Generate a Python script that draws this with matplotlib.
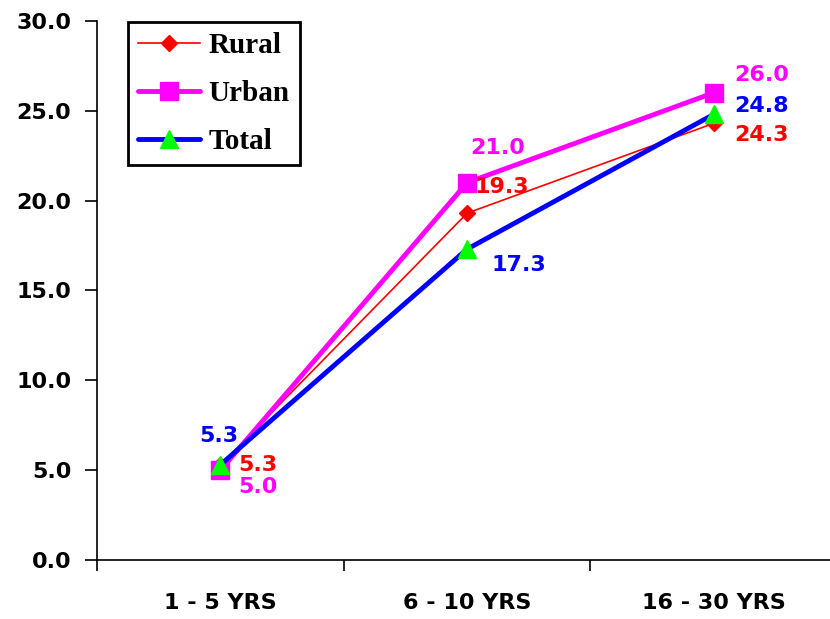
import matplotlib.pyplot as plt
import numpy as np

categories = ['1 - 5 YRS', '6 - 10 YRS', '16 - 30 YRS']
rural = [5.3, 19.3, 24.3]
urban = [5.0, 21.0, 26.0]
total = [5.3, 17.3, 24.8]

fig = plt.figure(figsize=(8.3, 6.19), dpi=100)
ax = fig.add_axes([0.117, 0.0953, 0.8916, 0.871])

x = np.arange(len(categories))
ax.plot(x, rural, color='red', lw=1.2, marker='D', ms=8, mfc='red', mec='red', label='Rural')
ax.plot(x, urban, color='#FF00FF', lw=3.5, marker='s', ms=13, mfc='#FF00FF', mec='#FF00FF',
        label='Urban', solid_capstyle='round')
ax.plot(x, total, color='#0000FF', lw=3.5, marker='^', ms=13, mfc='#00FF00', mec='#00FF00',
        label='Total', solid_capstyle='round')

# data labels (offsets in pixels)
label_font = dict(fontsize=16, fontweight='bold', family='DejaVu Sans')
rural_off = [(18, 0, 'left'), (7, 26, 'left'), (20, -12, 'left')]
urban_off = [(18, -17, 'left'), (31, 35, 'center'), (20, 18, 'left')]
total_off = [(-2, 29, 'center'), (24, -16, 'left'), (20, 8, 'left')]
for vals, offs, col in [(rural, rural_off, 'red'), (urban, urban_off, '#FF00FF'),
                        (total, total_off, '#0000FF')]:
    for i, v in enumerate(vals):
        dx, dy, ha = offs[i]
        ax.annotate(f'{v:.1f}', (i, v), xytext=(dx, dy), textcoords='offset pixels',
                    ha=ha, va='center', color=col, **label_font)

ax.set_xlim(-0.5, 2.5)
ax.set_ylim(0, 30)
ax.set_yticks(np.arange(0, 31, 5))
ax.set_yticklabels([f'{t:.1f}' for t in np.arange(0, 31, 5)], fontsize=16, fontweight='bold')
ax.set_xticks(x)
ax.set_xticklabels(categories, fontsize=16, fontweight='bold')
ax.set_xticks([-0.5, 0.5, 1.5, 2.5], minor=True)
ax.tick_params(axis='x', which='major', length=0, pad=24)
ax.tick_params(axis='x', which='minor', length=8, width=1.2, direction='out')
ax.tick_params(axis='y', length=8.5, width=1.2, direction='out', pad=10)

for s in ['top', 'right']:
    ax.spines[s].set_visible(False)
for s in ['left', 'bottom']:
    ax.spines[s].set_linewidth(1.2)

leg = ax.legend(loc='upper left', bbox_to_anchor=(0.042, 0.998), borderaxespad=0,
                fancybox=False, edgecolor='black', framealpha=1, handlelength=2.1,
                handletextpad=0.3, borderpad=0.35, labelspacing=0.72,
                prop=dict(family='Liberation Serif', weight='bold', size=21))
leg.get_frame().set_linewidth(2)

fig.savefig('out.png', dpi=100, facecolor='white')
